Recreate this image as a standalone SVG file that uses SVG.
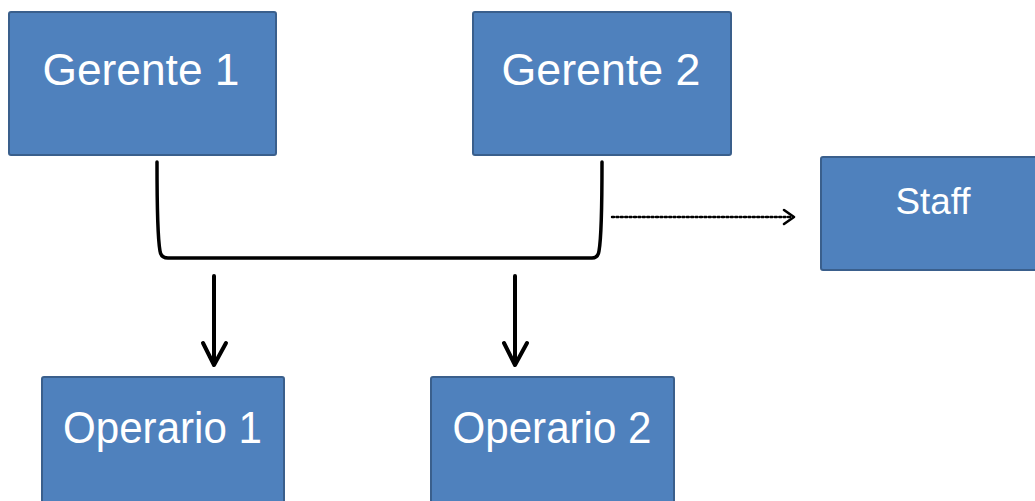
<svg xmlns="http://www.w3.org/2000/svg" width="1035" height="501" viewBox="0 0 1035 501">
<style>
.box{fill:#4F81BD;stroke:#3A5F8C;stroke-width:2}
.lbl{fill:#FFFFFF;font-family:"Liberation Sans",Arial,sans-serif;text-anchor:middle}
.big{font-size:44px}
.small{font-size:36px}
.conn{fill:none;stroke:#000;stroke-linecap:round;stroke-linejoin:round}
</style>
<rect width="1035" height="501" fill="#FFFFFF"/>
<g id="gerente1"><rect class="box" x="9" y="12" width="267" height="143" rx="2"/><text class="lbl big" x="141" y="85" textLength="197" lengthAdjust="spacingAndGlyphs">Gerente 1</text></g>
<g id="gerente2"><rect class="box" x="473" y="12" width="258" height="143" rx="2"/><text class="lbl big" x="601" y="85" textLength="199" lengthAdjust="spacingAndGlyphs">Gerente 2</text></g>
<g id="staff"><rect class="box" x="821" y="157" width="220" height="113" rx="2"/><text class="lbl small" x="933" y="214" textLength="75" lengthAdjust="spacingAndGlyphs">Staff</text></g>
<g id="operario1"><rect class="box" x="42" y="377" width="242" height="130" rx="2"/><text class="lbl big" x="162.5" y="443" textLength="199" lengthAdjust="spacingAndGlyphs">Operario 1</text></g>
<g id="operario2"><rect class="box" x="431" y="377" width="243" height="130" rx="2"/><text class="lbl big" x="552" y="443" textLength="199" lengthAdjust="spacingAndGlyphs">Operario 2</text></g>
<g id="connectors">
<path class="conn" stroke-width="3.5" d="M157,162 C157,205 158,240 160,251 Q161,258 168,258 L592,258 Q598,258 599,251 C601,240 602,205 602,162"/>
<path class="conn" stroke-width="4" d="M214,276 L214,364 M203,343 L214,365 L226,343"/>
<path class="conn" stroke-width="4" d="M515,276 L515,364 M504,343 L515,365 L527,343"/>
<path class="conn" stroke-width="2.4" stroke-dasharray="2,2.4" stroke-linecap="butt" d="M612,217 L792,217"/>
<path class="conn" stroke-width="2.6" d="M784,210 L794,217 L784,224"/>
</g>
</svg>
